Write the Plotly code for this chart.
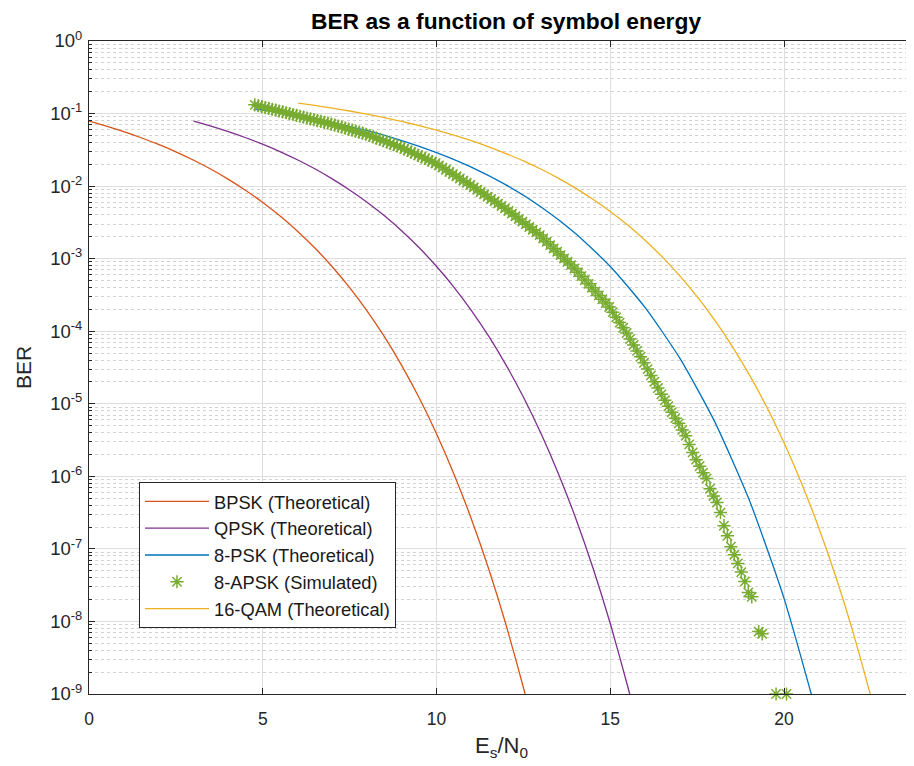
import plotly.graph_objects as go

# ---------------- data ----------------
bpsk_esn0 = [0, 0.5, 1, 1.5, 2, 2.5, 3, 3.5, 4, 4.5, 5, 5.5, 6, 6.5, 7, 7.5, 8, 8.5,
             9, 9.5, 10, 10.5, 11, 11.5, 12, 12.5, 13]
bpsk_ber = [0.0786, 0.0671, 0.0563, 0.0464, 0.0375, 0.0297, 0.0229, 0.0172, 0.0125,
            0.00879, 0.00595, 0.00386, 0.00239, 0.00140, 7.73e-4, 3.99e-4, 1.91e-4,
            8.40e-5, 3.36e-5, 1.21e-5, 3.87e-6, 1.08e-6, 2.61e-7, 5.33e-8, 9.0e-9,
            1.23e-9, 1.33e-10]

qpsk_esn0 = [3.01, 3.51, 4.01, 4.51, 5.01, 5.51, 6.01, 6.51, 7.01, 7.51, 8.01, 8.51,
             9.01, 9.51, 10.01, 10.51, 11.01, 11.51, 12.01, 12.51, 13.01, 13.51, 14.01,
             14.51, 15.01, 15.51, 16.01]
qpsk_ber = [0.0786, 0.0671, 0.0563, 0.0464, 0.0375, 0.0297, 0.0229, 0.0172, 0.0125,
            0.00879, 0.00595, 0.00386, 0.00239, 0.00140, 7.73e-4, 3.99e-4, 1.91e-4,
            8.40e-5, 3.36e-5, 1.21e-5, 3.87e-6, 1.08e-6, 2.61e-7, 5.33e-8, 9.0e-9,
            1.23e-9, 1.33e-10]

psk8_esn0 = [4.77, 5, 6, 7, 8, 9, 10, 11, 12, 13, 14, 15, 16, 17, 18, 19, 20, 21]
psk8_ber = [0.1163, 0.1119, 0.0934, 0.0752, 0.0580, 0.0424, 0.0290, 0.01829, 0.0104,
            0.00521, 0.00223, 7.8e-4, 2.13e-4, 4.25e-5, 5.72e-6, 4.71e-7, 2.08e-8, 4.2e-10]

qam16_esn0 = [6.02, 6.5, 7, 7.5, 8, 8.5, 9, 9.5, 10, 10.5, 11, 11.5, 12, 12.5, 13, 13.5,
              14, 14.5, 15, 15.5, 16, 16.5, 17, 17.5, 18, 18.5, 19, 19.5, 20, 20.5, 21,
              21.5, 22, 22.5, 23]
qam16_ber = [0.1392, 0.1292, 0.1188, 0.1084, 0.0980, 0.0878, 0.0779, 0.0682, 0.0590,
             0.0503, 0.0422, 0.0348, 0.0281, 0.0223, 0.0172, 0.0129, 0.00938, 0.00659,
             0.00446, 0.00290, 0.00179, 0.00105, 5.80e-4, 2.99e-4, 1.43e-4, 6.30e-5,
             2.52e-5, 9.08e-6, 2.90e-6, 8.1e-7, 1.96e-7, 4.0e-8, 6.75e-9, 9.2e-10, 1.0e-10]

# 8-APSK simulated: Es/N0 from 4.771 dB in 0.1 dB steps, log10(BER)
apsk8_start = 4.771
apsk8_step = 0.1
apsk8_log10ber = [
    -0.880, -0.892, -0.905, -0.917, -0.929, -0.941, -0.953, -0.965, -0.977, -0.989,
    -1.001, -1.013, -1.025, -1.037, -1.049, -1.061, -1.073, -1.085, -1.097, -1.109,
    -1.121, -1.133, -1.145, -1.159, -1.173, -1.187, -1.201, -1.215, -1.229, -1.243,
    -1.257, -1.271, -1.285, -1.303, -1.321, -1.339, -1.357, -1.375, -1.393, -1.411,
    -1.429, -1.447, -1.465, -1.487, -1.509, -1.531, -1.553, -1.575, -1.597, -1.619,
    -1.641, -1.663, -1.685, -1.715, -1.745, -1.775, -1.805, -1.835, -1.865, -1.895,
    -1.925, -1.955, -1.985, -2.017, -2.049, -2.081, -2.113, -2.145, -2.177, -2.209,
    -2.241, -2.273, -2.305, -2.342, -2.379, -2.416, -2.453, -2.490, -2.527, -2.564,
    -2.601, -2.638, -2.675, -2.721, -2.767, -2.813, -2.859, -2.905, -2.951, -2.997,
    -3.043, -3.089, -3.135, -3.188, -3.241, -3.294, -3.347, -3.400, -3.453, -3.506,
    -3.559, -3.612, -3.665, -3.737, -3.809, -3.881, -3.953, -4.025, -4.107, -4.189,
    -4.271, -4.353, -4.435, -4.522, -4.609, -4.696, -4.783, -4.870, -4.952, -5.034,
    -5.116, -5.198, -5.270, -5.360, -5.440, -5.560, -5.670, -5.770, -5.860, -5.950,
    -6.030, -6.170, -6.270, -6.360, -6.500, -6.680, -6.820, -6.970, -7.080, -7.200,
    -7.320, -7.450, -7.600, -7.660, None, -8.140, -8.170, None, None, None,
    -9.000, None, None, -9.000]

apsk8_esn0 = [round(apsk8_start + apsk8_step * k, 3) for k in range(len(apsk8_log10ber))]
apsk8_ber = [None if v is None else 10 ** v for v in apsk8_log10ber]

ytick_vals = [1e-9, 1e-8, 1e-7, 1e-6, 1e-5, 1e-4, 1e-3, 1e-2, 1e-1, 1e0]
ytick_text = ["10<sup>-9</sup>", "10<sup>-8</sup>", "10<sup>-7</sup>", "10<sup>-6</sup>",
              "10<sup>-5</sup>", "10<sup>-4</sup>", "10<sup>-3</sup>", "10<sup>-2</sup>",
              "10<sup>-1</sup>", "10<sup>0</sup>"]
xtick_vals = [0, 5, 10, 15, 20]

# ---------------- figure ----------------
# The page body has an 8 px default margin, so the figure is sized/positioned to compensate.
FONT = "Liberation Sans, Arial, Helvetica, sans-serif"
AX = "#262626"
GRID = "#dedede"
W, H = 906, 758

fig = go.Figure()

def add_line(x, y, name, color, group):
    fig.add_trace(go.Scatter(x=x, y=y, mode="lines", name=name, legendgroup=group,
                             line=dict(color=color, width=1.3, shape="spline", smoothing=0.6)))

add_line(bpsk_esn0, bpsk_ber, "BPSK (Theoretical)", "#D95319", "a")
add_line(qpsk_esn0, qpsk_ber, "QPSK (Theoretical)", "#7E2F8E", "b")
add_line(psk8_esn0, psk8_ber, "8-PSK (Theoretical)", "#0072BD", "c")
fig.add_trace(go.Scatter(x=apsk8_esn0, y=apsk8_ber, mode="markers", name="8-APSK (Simulated)",
                         legendgroup="d", cliponaxis=False,
                         marker=dict(symbol="asterisk-open", size=11, color="#77AC30",
                                     line=dict(color="#77AC30", width=1.5))))
add_line(qam16_esn0, qam16_ber, "16-QAM (Theoretical)", "#EDB120", "e")

fig.update_layout(
    width=W, height=H,
    margin=dict(l=81, r=0, t=33, b=72),
    paper_bgcolor="white", plot_bgcolor="white",
    font=dict(family=FONT, color=AX, size=17),
    title=dict(text="<b>BER as a function of symbol energy</b>", x=498 / W, xanchor="center",
               xref="container", y=1 - 13 / H, yanchor="middle", yref="container",
               font=dict(family=FONT, size=22.8, color="#000000")),
    showlegend=True,
    legend=dict(x=(139 - 89) / 825, y=(694 - 482) / 653, xanchor="left", yanchor="top",
                bgcolor="white", bordercolor=AX, borderwidth=1,
                font=dict(family=FONT, size=18.3, color="#1a1a1a"),
                tracegroupgap=0, itemwidth=64, traceorder="normal"),
)

fig.update_xaxes(
    range=[0, 23.74], tickvals=xtick_vals, ticks="inside", ticklen=6, tickcolor=AX,
    showline=True, linecolor=AX, linewidth=1, mirror="ticks", automargin=False,
    showgrid=True, gridcolor=GRID, gridwidth=1, zeroline=False,
    tickfont=dict(size=17.5, color=AX), ticklabelstandoff=9,
    title=dict(text="E<sub>s</sub>/N<sub>0</sub>", font=dict(size=22, color=AX), standoff=9),
)
fig.update_yaxes(
    type="log", range=[-9, 0], tickvals=ytick_vals, ticktext=ytick_text,
    ticks="inside", ticklen=6, tickcolor=AX,
    showline=True, linecolor=AX, linewidth=1, mirror="ticks", automargin=False,
    showgrid=True, gridcolor=GRID, gridwidth=1, zeroline=False,
    tickfont=dict(size=18.5, color=AX), ticklabelstandoff=2,
    minor=dict(dtick="D1", ticks="inside", ticklen=3, tickcolor=AX, showgrid=True,
               gridcolor="#d2d2d2", griddash="dot", gridwidth=1),
    title=dict(text="BER", font=dict(size=21, color=AX), standoff=12),
)

fig.write_html("out.html")
